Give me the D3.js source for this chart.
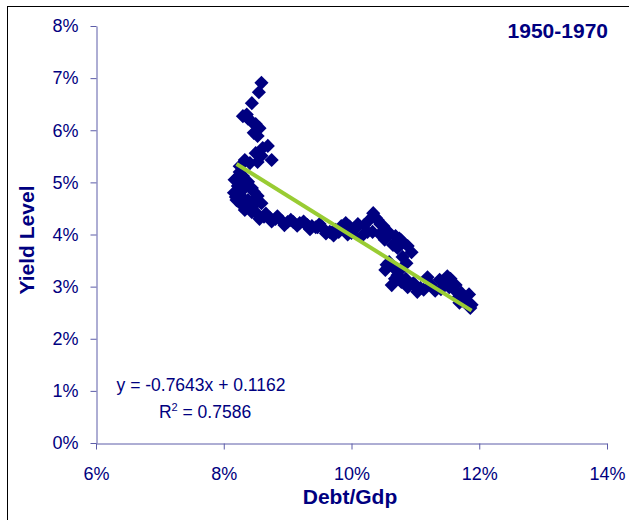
<!DOCTYPE html>
<html>
<head>
	<meta charset="utf-8">
	<script src="https://d3js.org/d3.v7.min.js"></script>
	<title>Yield Level vs Debt/Gdp 1950-1970</title>
	<style>
		body { margin: 0; background: #fff; }
		text { font-family: "Liberation Sans", Arial, sans-serif; fill: #000080; }
	</style>
</head>
<body>
	<div id="chart"></div>

	<script type="text/javascript">

		// data, both in percent
		var debtGdp = [
			8.59, 8.55, 8.44, 8.30, 8.38, 8.44, 8.50, 8.56, 8.47, 8.53, 8.36,
			8.61, 8.69, 8.50, 8.59, 8.75, 8.33, 8.41, 8.53, 8.25,
			8.25, 8.17, 8.38, 8.22, 8.44, 8.16, 8.25, 8.20, 8.28, 8.38, 8.33, 8.44, 8.53, 8.59,
			8.22, 8.30, 8.28, 8.33, 8.19, 8.30, 8.36, 8.41, 8.47, 8.50, 8.47,
			8.53, 8.63, 8.72, 8.81, 8.91, 9.00, 9.09, 9.19, 9.28, 9.31, 9.38, 9.44, 9.47, 9.56, 9.66, 9.69, 9.75, 9.84, 9.91, 9.94,
			8.56, 8.66, 8.75, 8.84, 8.95, 9.05, 9.15, 9.25, 9.35, 9.50, 9.60, 9.72, 9.80, 9.88, 9.97,
			10.00, 10.06, 10.16, 10.20, 10.28, 10.34, 10.41, 10.50, 10.33, 10.44, 10.56,
			10.10, 10.25, 10.38, 10.45, 10.52, 10.60, 10.65, 10.75,
			10.69, 10.78, 10.88, 10.94, 10.72, 10.80, 10.86, 10.59, 10.66, 10.72, 10.53, 10.63, 10.78, 10.88, 10.97,
			10.55, 10.68, 10.75, 10.85, 10.92, 11.00, 11.08,
			11.03, 11.13, 11.19, 11.25, 11.31, 11.38, 11.47, 11.53, 11.61, 11.66, 11.72, 11.78, 11.81, 11.86, 11.69, 11.63, 11.50,
			11.40, 11.55, 11.75, 11.84, 11.88
		];
		var yieldLevel = [
			6.91, 6.73, 6.52, 6.27, 6.22, 6.16, 6.12, 6.04, 5.95, 5.89, 6.30,
			5.66, 5.70, 5.56, 5.51, 5.43, 5.43, 5.37, 5.39, 5.31,
			5.20, 5.05, 5.01, 4.93, 4.89, 4.80, 4.80, 4.66, 4.57, 4.66, 4.47, 4.43, 4.74, 4.60,
			5.10, 5.12, 4.98, 4.90, 4.72, 4.70, 4.55, 4.50, 4.56, 4.68, 4.82,
			4.39, 4.34, 4.32, 4.30, 4.26, 4.24, 4.24, 4.22, 4.20, 4.18, 4.16, 4.14, 4.14, 4.11, 4.05, 4.03, 4.09, 4.16, 4.22, 4.00,
			4.30, 4.40, 4.25, 4.35, 4.18, 4.28, 4.17, 4.25, 4.10, 4.20, 4.02, 3.98, 4.05, 4.12, 4.15,
			4.03, 4.11, 3.97, 4.18, 4.28, 4.41, 4.28, 4.16, 4.05, 4.01, 4.07,
			4.20, 4.05, 4.32, 4.20, 3.90, 4.00, 3.80, 3.92,
			3.97, 3.89, 3.78, 3.66, 3.74, 3.57, 3.45, 3.47, 3.36, 3.22, 3.32, 3.03, 3.09, 2.99, 3.07,
			3.42, 3.15, 3.30, 3.15, 3.05, 3.00, 2.97,
			2.90, 2.94, 3.18, 3.03, 2.92, 3.13, 3.09, 2.99, 2.94, 2.78, 2.88, 2.80, 2.67, 2.59, 2.69, 3.03, 3.20,
			2.95, 3.15, 2.72, 2.85, 2.65
		];

		var xTicks = [6, 8, 10, 12, 14];
		var yTicks = [0, 1, 2, 3, 4, 5, 6, 7, 8];

		// regression shown on the chart (fractions)
		var slope = -0.7643;
		var intercept = 0.1162;
		var rSquared = 0.7586;
		var fitRange = [8.2, 11.88];

		var width = 629, height = 520;

		var svg = d3.select("#chart").append("svg")
			.attr("width", width)
			.attr("height", height);

		// outer frame
		svg.append("rect")
			.attr("x", 7.5).attr("y", 6.5)
			.attr("width", 640).attr("height", 600)
			.attr("fill", "none")
			.attr("stroke", "#000")
			.attr("stroke-width", 1);

		var x = d3.scaleLinear().domain([6, 14]).range([96, 607]);
		var y = d3.scaleLinear().domain([0, 8]).range([443, 26]);

		var axisColor = "#5c5ca8";

		var xAxis = svg.append("g")
			.attr("transform", "translate(0,443.5)")
			.call(d3.axisBottom(x).tickValues(xTicks).tickSizeInner(6).tickSizeOuter(0)
				.tickFormat(function(d){ return d + "%"; }));

		var yAxis = svg.append("g")
			.attr("transform", "translate(96.5,0)")
			.call(d3.axisLeft(y).tickValues(yTicks).tickSizeInner(6).tickSizeOuter(0)
				.tickFormat(function(d){ return d + "%"; }));

		[xAxis, yAxis].forEach(function(g){
			g.select(".domain").attr("stroke", axisColor);
			g.selectAll(".tick line").attr("stroke", axisColor);
			g.selectAll(".tick text")
				.attr("fill", "#000080")
				.style("font-size", "18px")
				.style("font-family", "'Liberation Sans', Arial, sans-serif");
		});
		xAxis.selectAll(".tick text").attr("dy", "1.5em");
		yAxis.selectAll(".tick text").attr("x", -18);

		// points
		var points = debtGdp.map(function(d, i){ return { x: d, y: yieldLevel[i] }; });

		svg.selectAll(".pt")
			.data(points).enter()
			.append("path")
			.attr("class", "pt")
			.attr("d", d3.symbol(d3.symbolSquare, 100))
			.attr("transform", function(d){
				return "translate(" + x(d.x) + "," + y(d.y) + ") rotate(45)";
			})
			.attr("fill", "#000080");

		// trend line
		var fitLine = d3.line()
			.x(function(d){ return x(d); })
			.y(function(d){ return y((slope * d / 100 + intercept) * 100); });

		svg.append("path")
			.datum(fitRange)
			.attr("d", fitLine)
			.attr("fill", "none")
			.attr("stroke", "#99cc33")
			.attr("stroke-width", 4);

		// equation
		svg.append("text")
			.attr("x", 201).attr("y", 391)
			.attr("text-anchor", "middle")
			.style("font-size", "17.5px")
			.text("y = " + slope + "x + " + intercept);

		var r2 = svg.append("text")
			.attr("x", 205).attr("y", 418)
			.attr("text-anchor", "middle")
			.style("font-size", "17.5px");
		r2.append("tspan").text("R");
		r2.append("tspan").attr("dy", -7).style("font-size", "11px").text("2");
		r2.append("tspan").attr("dy", 7).text(" = " + rSquared);

		// titles
		svg.append("text")
			.attr("x", 608).attr("y", 38)
			.attr("text-anchor", "end")
			.style("font-size", "21px").style("font-weight", "bold")
			.text("1950-1970");

		svg.append("text")
			.attr("x", 350).attr("y", 504)
			.attr("text-anchor", "middle")
			.style("font-size", "21px").style("font-weight", "bold")
			.text("Debt/Gdp");

		svg.append("text")
			.attr("transform", "translate(34,240) rotate(-90)")
			.attr("text-anchor", "middle")
			.style("font-size", "21px").style("font-weight", "bold")
			.text("Yield Level");

	</script>
</body>
</html>
